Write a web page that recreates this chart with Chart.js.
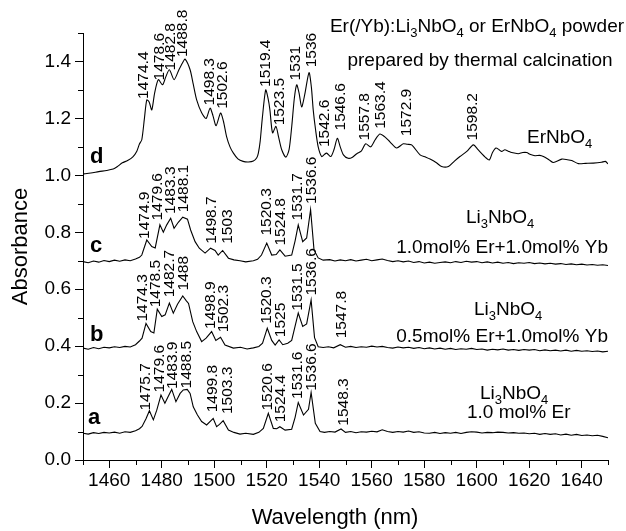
<!DOCTYPE html>
<html>
<head>
<meta charset="utf-8">
<script src="https://cdn.jsdelivr.net/npm/chart.js@4"></script>
<style>html,body{margin:0;padding:0;background:#fff}</style>
</head>
<body>
<canvas id="absChart" width="626" height="531"></canvas>
<script>
// spectrum d: ErNbO4
const wlD = [1450,1453,1456,1459,1461.5,1463,1465,1467,1469,1470.5,1471.5,1472.4,1473.4,1474.3,1475.2,1476.2,1477.3,1478.7,1480.3,1481.5,1482.9,1484.7,1486.5,1488.2,1488.9,1490.8,1492,1493.3,1495.2,1496.9,1498.4,1499.5,1500.7,1502.4,1503.5,1504.7,1506,1507.3,1509,1511,1513,1514.9,1516.2,1516.8,1517.5,1518.3,1519.6,1520.5,1521.2,1522.2,1523.5,1524.5,1525.7,1527.3,1528.5,1529.5,1530.5,1531.4,1532.3,1533.3,1534.5,1536.1,1537,1537.7,1538.6,1539.6,1540.9,1541.8,1542.8,1544.4,1545.6,1546.9,1548,1549.2,1551,1552.5,1554.3,1556,1557.7,1559.6,1561.3,1563.1,1565,1567,1569.5,1572,1573.5,1575.2,1578.4,1580.5,1582.2,1584.5,1586.6,1589.2,1591.5,1593.6,1596.2,1598.7,1600.5,1601.9,1603.2,1604.8,1606,1607.3,1608.5,1609.5,1610.7,1612,1613.3,1615.8,1617.5,1619,1620.5,1622.2,1624,1625.4,1627.5,1629.2,1632.4,1634.5,1636.2,1638.7,1641.5,1644.4,1647.5,1649,1650];
const absD = [1.005,1.008,1.013,1.017,1.022,1.03,1.044,1.052,1.065,1.085,1.11,1.125,1.2,1.265,1.258,1.23,1.29,1.336,1.318,1.345,1.371,1.336,1.37,1.4,1.408,1.371,1.32,1.265,1.22,1.2,1.236,1.21,1.174,1.219,1.19,1.136,1.1,1.078,1.058,1.049,1.047,1.05,1.062,1.078,1.12,1.2,1.3,1.27,1.23,1.149,1.172,1.135,1.09,1.064,1.09,1.17,1.27,1.318,1.29,1.24,1.285,1.361,1.31,1.23,1.16,1.1,1.066,1.072,1.078,1.066,1.09,1.13,1.1,1.072,1.06,1.063,1.076,1.085,1.111,1.1,1.125,1.145,1.135,1.117,1.096,1.111,1.109,1.107,1.072,1.064,1.057,1.045,1.031,1.031,1.05,1.066,1.084,1.107,1.09,1.076,1.064,1.054,1.08,1.096,1.09,1.084,1.09,1.085,1.08,1.076,1.08,1.08,1.073,1.069,1.07,1.066,1.055,1.045,1.057,1.055,1.052,1.041,1.042,1.043,1.046,1.049,1.04];

// spectrum c: 1.0mol% Er + 1.0mol% Yb
const wlC = [1450,1452,1454,1456,1458,1460,1462,1464,1466,1468,1470,1471.5,1472.4,1474.3,1476.2,1477.5,1479.3,1480.6,1481.9,1483.4,1484.7,1486.3,1488,1489.8,1491,1492.7,1494.3,1496.5,1498.6,1500.3,1501.5,1503.2,1505.4,1507.5,1509.8,1512,1514.9,1516.5,1518,1520,1521.9,1523.6,1525,1527,1529.5,1530.8,1532,1533.7,1535.2,1536.7,1538,1539.6,1541.5,1544,1546,1548,1550,1552,1554,1556,1558,1560,1562,1564,1566,1568,1570,1572,1574,1576,1578,1580,1582,1584,1586,1588,1590,1592,1594,1596,1598,1600,1602,1604,1606,1608,1610,1612,1614,1616,1618,1620,1622,1624,1626,1628,1630,1632,1634,1636,1638,1640,1642,1644,1646,1648,1650];
const absC = [0.697,0.693,0.699,0.695,0.701,0.697,0.702,0.698,0.703,0.7,0.706,0.712,0.72,0.773,0.75,0.745,0.826,0.8,0.826,0.849,0.814,0.835,0.853,0.846,0.808,0.767,0.744,0.727,0.744,0.736,0.72,0.736,0.709,0.703,0.7,0.696,0.7,0.705,0.72,0.762,0.72,0.722,0.738,0.716,0.72,0.77,0.826,0.767,0.78,0.879,0.738,0.71,0.702,0.704,0.699,0.703,0.7,0.704,0.699,0.702,0.705,0.7,0.703,0.706,0.701,0.697,0.7,0.696,0.699,0.694,0.697,0.692,0.695,0.691,0.694,0.696,0.693,0.697,0.694,0.698,0.695,0.697,0.693,0.696,0.692,0.695,0.691,0.694,0.69,0.693,0.691,0.694,0.69,0.692,0.689,0.691,0.688,0.69,0.687,0.689,0.686,0.688,0.685,0.687,0.684,0.686,0.683];

// spectrum b: 0.5mol% Er + 1.0mol% Yb
const wlB = [1450,1452,1454,1456,1458,1460,1462,1464,1466,1468,1470,1471.5,1472.5,1474,1475.8,1477,1478.3,1480,1481.3,1482.9,1484.4,1486,1488,1489.3,1490.2,1491.8,1493.3,1495.2,1496.9,1499,1500.6,1502.4,1504.1,1507.3,1510,1512.5,1514.9,1517,1518.4,1520.2,1521.9,1523.2,1524.7,1526.1,1528,1529.5,1530.8,1532,1533.7,1535.2,1536.9,1538.2,1539.6,1541.5,1543.5,1545.5,1548,1550,1552,1554,1556,1558,1560,1562,1564,1566,1568,1570,1572,1574,1576,1578,1580,1582,1584,1586,1588,1590,1592,1594,1596,1598,1600,1602,1604,1606,1608,1610,1612,1614,1616,1618,1620,1622,1624,1626,1628,1630,1632,1634,1636,1638,1640,1642,1644,1646,1648,1650];
const absB = [0.393,0.389,0.395,0.391,0.396,0.394,0.398,0.395,0.399,0.397,0.405,0.418,0.428,0.48,0.451,0.446,0.53,0.504,0.51,0.551,0.516,0.547,0.576,0.56,0.55,0.486,0.451,0.416,0.428,0.451,0.42,0.431,0.404,0.393,0.396,0.39,0.394,0.399,0.41,0.463,0.42,0.404,0.422,0.405,0.41,0.42,0.47,0.516,0.469,0.478,0.562,0.43,0.398,0.395,0.398,0.394,0.405,0.396,0.399,0.395,0.398,0.396,0.4,0.397,0.399,0.395,0.393,0.397,0.394,0.396,0.392,0.395,0.391,0.394,0.39,0.393,0.389,0.392,0.388,0.391,0.389,0.392,0.388,0.39,0.386,0.389,0.387,0.39,0.386,0.388,0.385,0.388,0.386,0.388,0.384,0.387,0.384,0.386,0.383,0.386,0.382,0.385,0.382,0.384,0.381,0.383,0.38,0.382];

// spectrum a: 1.0 mol% Er
const wlA = [1450,1452,1454,1456,1458,1460,1462,1464,1466,1468,1470,1471.5,1472.5,1474,1475.3,1476.8,1478.1,1479.7,1481.2,1482.4,1483.8,1485.4,1487,1488.2,1489.7,1490.8,1492,1493.6,1495.2,1497.1,1499.6,1500.9,1502,1503.4,1505.4,1507.5,1509.8,1512,1514.9,1517,1518.7,1520.6,1522.5,1523.8,1525,1527,1529.5,1530.8,1532,1534,1535.9,1536.9,1538.5,1540.3,1542,1544,1546,1548.3,1550,1552,1554,1556,1558,1560,1562,1564,1566,1568,1570,1572,1574,1576,1578,1580,1582,1584,1586,1588,1590,1592,1594,1596,1598,1600,1602,1604,1606,1608,1610,1612,1614,1616,1618,1620,1622,1624,1626,1628,1630,1632,1634,1636,1638,1640,1642,1644,1646,1648,1650];
const absA = [0.094,0.091,0.096,0.093,0.097,0.095,0.098,0.094,0.099,0.097,0.103,0.11,0.118,0.145,0.173,0.141,0.175,0.228,0.199,0.222,0.248,0.205,0.234,0.246,0.248,0.234,0.187,0.158,0.135,0.123,0.146,0.117,0.125,0.138,0.105,0.097,0.091,0.094,0.09,0.097,0.111,0.164,0.111,0.11,0.117,0.105,0.108,0.15,0.202,0.158,0.178,0.237,0.129,0.1,0.097,0.1,0.098,0.109,0.097,0.1,0.096,0.099,0.098,0.101,0.099,0.106,0.1,0.097,0.1,0.098,0.102,0.097,0.099,0.095,0.094,0.097,0.093,0.096,0.094,0.097,0.093,0.097,0.099,0.098,0.095,0.097,0.096,0.098,0.097,0.095,0.096,0.094,0.095,0.092,0.094,0.09,0.093,0.09,0.092,0.088,0.091,0.087,0.09,0.086,0.088,0.085,0.087,0.083,0.078];

// peak labels: [text, wavelength of label centre, absorbance at label foot]
const peaksD = [['1474.4',1472.7,1.265],['1478.6',1478.7,1.33],['1482.8',1482.9,1.365],['1488.8',1487.6,1.412],['1498.3',1497.7,1.242],['1502.6',1502.8,1.23],['1519.4',1519.3,1.307],['1523.5',1524.4,1.172],['1531',1530.5,1.33],['1536',1536.7,1.376],['1542.6',1541.8,1.096],['1546.6',1547.6,1.154],['1557.8',1557,1.119],['1563.4',1563.1,1.16],['1572.9',1573,1.134],['1598.2',1598.1,1.119]];
const peaksC = [['1474.9',1473,0.773],['1479.6',1478.1,0.838],['1483.3',1483.1,0.861],['1488.1',1488,0.867],['1498.7',1498.4,0.756],['1503',1504.5,0.756],['1520.3',1519.6,0.785],['1524.8',1525,0.75],['1531.7',1531.4,0.838],['1536.6',1536.7,0.896]];
const peaksB = [['1474.3',1472.4,0.483],['1478.5',1477.4,0.533],['1482.7',1482.5,0.568],['1488',1488,0.592],['1498.9',1498.1,0.457],['1502.3',1503.1,0.445],['1520.3',1519.6,0.475],['1525',1525,0.428],['1531.5',1531.4,0.521],['1536.6',1536.7,0.574],['1547.8',1548.1,0.424]];
const peaksA = [['1475.7',1473.6,0.17],['1479.6',1478.7,0.234],['1483.9',1483.8,0.246],['1488.5',1488.9,0.248],['1499.8',1499,0.164],['1503.3',1504.5,0.158],['1520.6',1520,0.17],['1524.4',1525,0.129],['1531.6',1531.4,0.211],['1536.6',1536.5,0.24],['1548.3',1548.9,0.117]];

const xTicks = [1460,1480,1500,1520,1540,1560,1580,1600,1620,1640];
const yTicks = [0,0.2,0.4,0.6,0.8,1.0,1.2,1.4];
const xMinor = [1450,1470,1490,1510,1530,1550,1570,1590,1610,1630,1650];
const yMinor = [0.1,0.3,0.5,0.7,0.9,1.1,1.3,1.5];

const FONT = '"Liberation Sans", Arial, Helvetica, sans-serif';

function pts(xs, ys) {
    return xs.map((x, i) => ({x: x, y: ys[i]}));
}

function line(data, tension) {
    return {
        data: data, borderColor: '#000', borderWidth: 1.1,
        pointRadius: 0, showLine: true, fill: false, tension: tension
    };
}

// text with subscripts: parts = [[text, isSub], ...]
function richWidth(ctx, parts, size, sub) {
    let w = 0;
    parts.forEach(p => {
        ctx.font = (p[1] ? sub : size) + 'px ' + FONT;
        w += ctx.measureText(p[0]).width;
    });
    return w;
}
function drawRich(ctx, parts, x, y, align, size, sub) {
    sub = sub || 13;
    const w = richWidth(ctx, parts, size, sub);
    let cx = align === 'right' ? x - w : align === 'center' ? x - w / 2 : x;
    ctx.textAlign = 'left';
    ctx.textBaseline = 'alphabetic';
    parts.forEach(p => {
        ctx.font = (p[1] ? sub : size) + 'px ' + FONT;
        ctx.fillText(p[0], cx, p[1] ? y + 5 : y);
        cx += ctx.measureText(p[0]).width;
    });
}

const overlay = {
    id: 'overlay',
    afterDraw(chart) {
        const ctx = chart.ctx;
        const xs = chart.scales.x, ys = chart.scales.y;
        const area = chart.chartArea;
        ctx.save();
        ctx.strokeStyle = '#000';
        ctx.fillStyle = '#000';
        ctx.lineWidth = 1;

        // minor ticks
        ctx.beginPath();
        xMinor.forEach(v => {
            const px = Math.round(xs.getPixelForValue(v)) + 0.5;
            ctx.moveTo(px, area.bottom);
            ctx.lineTo(px, area.bottom + 5);
        });
        yMinor.forEach(v => {
            const py = Math.round(ys.getPixelForValue(v)) + 0.5;
            ctx.moveTo(area.left, py);
            ctx.lineTo(area.left - 5, py);
        });
        ctx.stroke();

        // rotated peak labels
        ctx.font = '15.5px ' + FONT;
        ctx.textAlign = 'left';
        ctx.textBaseline = 'alphabetic';
        [peaksD, peaksC, peaksB, peaksA].forEach(list => {
            list.forEach(p => {
                ctx.save();
                ctx.translate(xs.getPixelForValue(p[1]), ys.getPixelForValue(p[2]));
                ctx.rotate(-Math.PI / 2);
                ctx.fillText(p[0], 1, 5.5);
                ctx.restore();
            });
        });

        // curve letters
        ctx.font = 'bold 22px ' + FONT;
        ctx.fillText('d', 90, 163);
        ctx.fillText('c', 90, 252);
        ctx.fillText('b', 90, 341);
        ctx.fillText('a', 88, 424);

        // header
        drawRich(ctx, [['Er(/Yb):Li', 0], ['3', 1], ['NbO', 0], ['4', 1], [' or ErNbO', 0], ['4', 1], [' powder', 0]], 477, 31.5, 'center', 19);
        drawRich(ctx, [['prepared by thermal calcination', 0]], 480, 66, 'center', 19);

        // sample names
        drawRich(ctx, [['ErNbO', 0], ['4', 1]], 527, 143, 'left', 19);
        drawRich(ctx, [['Li', 0], ['3', 1], ['NbO', 0], ['4', 1]], 466, 223, 'left', 19);
        drawRich(ctx, [['1.0mol% Er+1.0mol% Yb', 0]], 608, 253, 'right', 19);
        drawRich(ctx, [['Li', 0], ['3', 1], ['NbO', 0], ['4', 1]], 474, 315, 'left', 19);
        drawRich(ctx, [['0.5mol% Er+1.0mol% Yb', 0]], 608, 341.5, 'right', 19);
        drawRich(ctx, [['Li', 0], ['3', 1], ['NbO', 0], ['4', 1]], 480, 399, 'left', 19);
        drawRich(ctx, [['1.0 mol% Er', 0]], 467, 418, 'left', 19);

        // x axis title
        drawRich(ctx, [['Wavelength (nm)', 0]], 335, 524, 'center', 22);
        ctx.restore();
    }
};

const absChart = new Chart(document.getElementById('absChart'), {
    type: 'scatter',
    data: {
        datasets: [
            line(pts(wlD, absD), 0.25),
            line(pts(wlC, absC), 0),
            line(pts(wlB, absB), 0),
            line(pts(wlA, absA), 0)
        ]
    },
    options: {
        responsive: false,
        animation: false,
        devicePixelRatio: 1,
        layout: {padding: {top: 33, right: 18, left: 0, bottom: 0}},
        plugins: {legend: {display: false}, tooltip: {enabled: false}},
        scales: {
            x: {
                type: 'linear', min: 1450, max: 1650,
                afterBuildTicks: s => { s.ticks = xTicks.map(v => ({value: v})); },
                afterFit: s => { s.height = 71; },
                ticks: {color: '#000', font: {family: FONT, size: 19}, padding: 1, maxRotation: 0,
                        callback: v => String(v)},
                grid: {drawOnChartArea: false, tickLength: 8, color: '#000'},
                border: {color: '#000', width: 1}
            },
            y: {
                min: 0, max: 1.5,
                afterBuildTicks: s => { s.ticks = yTicks.map(v => ({value: v})); },
                afterFit: s => { s.width = 83; },
                ticks: {color: '#000', font: {family: FONT, size: 19}, padding: 4,
                        callback: v => v.toFixed(1)},
                grid: {drawOnChartArea: false, tickLength: 8, color: '#000'},
                border: {color: '#000', width: 1},
                title: {display: true, text: 'Absorbance', color: '#000',
                        font: {family: FONT, size: 22}, padding: {top: 8, bottom: 0}}
            }
        }
    },
    plugins: [overlay]
});
</script>
</body>
</html>
